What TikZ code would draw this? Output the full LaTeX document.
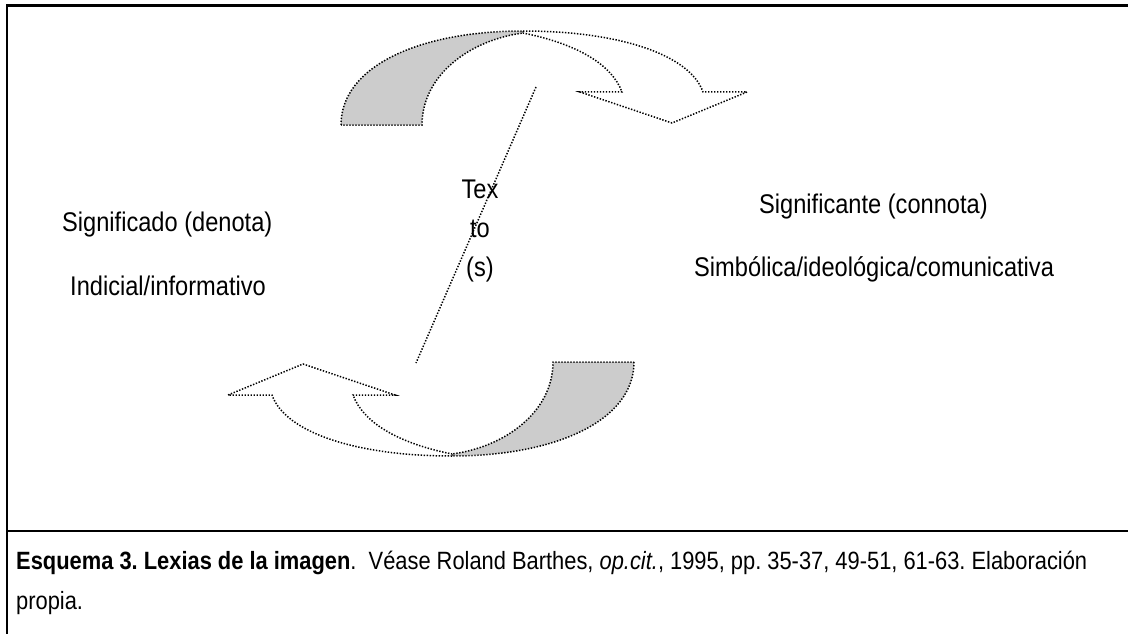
\documentclass[tikz,border=0pt]{standalone}
\usepackage{fontspec}
\setmainfont[FakeStretch=0.875]{Liberation Sans}
\frenchspacing
\begin{document}
\begin{tikzpicture}[x=1pt,y=-1pt,
  frame/.style={line width=2.6pt,black},
  dots/.style={line width=1.5pt,dash pattern=on 1.4pt off 1.6pt},
  shade/.style={dots,fill=black!20},
  blank/.style={dots,fill=white},
  label/.style={inner sep=0pt,font=\fontsize{27}{32}\selectfont},
  caption/.style={inner sep=0pt,anchor=base west,font=\fontsize{25}{30}\selectfont}]
\useasboundingbox (0,0) rectangle (1128,634);

% frame of the figure and caption rule
\coordinate (tl) at (7,5.5);
\coordinate (tr) at (1128,5.5);
\coordinate (bl) at (7,634);
\coordinate (sl) at (7,531);
\coordinate (sr) at (1128,531);
\draw[frame] (tr) -- (tl) -- (bl);
\draw[frame] (sl) -- (sr);

% curved arrow, drawn once on top and once turned half round below
\newcommand{\curvedarrow}{%
  \filldraw[shade] (341,125) .. controls (341,66) and (420,31) .. (523,31)
    -- (523,33) .. controls (470,40) and (422,75) .. (422,125) -- cycle;
  \filldraw[blank] (523,31) .. controls (620,31) and (690,55) .. (703,92)
    -- (747,92) -- (672,123) -- (580,92) -- (622,92)
    .. controls (612,65) and (578,44) .. (523,33);
}
\curvedarrow
\begin{scope}[rotate around={180:(487.5,243.5)}]
  \curvedarrow
\end{scope}

% dotted diagonal through the centre
\coordinate (dtop) at (536,87);
\coordinate (dbot) at (416,363);
\draw[dots] (dtop) -- (dbot);

% labels
\node[label,anchor=base] (tex) at (480,198) {Tex};
\node[label,anchor=base] (to) at (480,237) {to};
\node[label,anchor=base] (s) at (480,276) {(s)};
\node[label,anchor=base west] (sdo) at (62,231.5) {Significado (denota)};
\node[label,anchor=base west] (ind) at (70,295) {Indicial/informativo};
\node[label,anchor=base west] (ste) at (759,213) {Significante (connota)};
\node[label,anchor=base west] (sim) at (694,276) {Simbólica/ideológica/comunicativa};

% caption
\node[caption] (cap1) at (16,569) {\makebox[1071pt][s]{\textbf{Esquema 3. Lexias de la imagen}.\ \ Véase Roland Barthes, \textit{op.cit.}, 1995, pp. 35-37, 49-51, 61-63. Elaboración}};
\node[caption] (cap2) at (16,609) {propia.};
\end{tikzpicture}
\end{document}
